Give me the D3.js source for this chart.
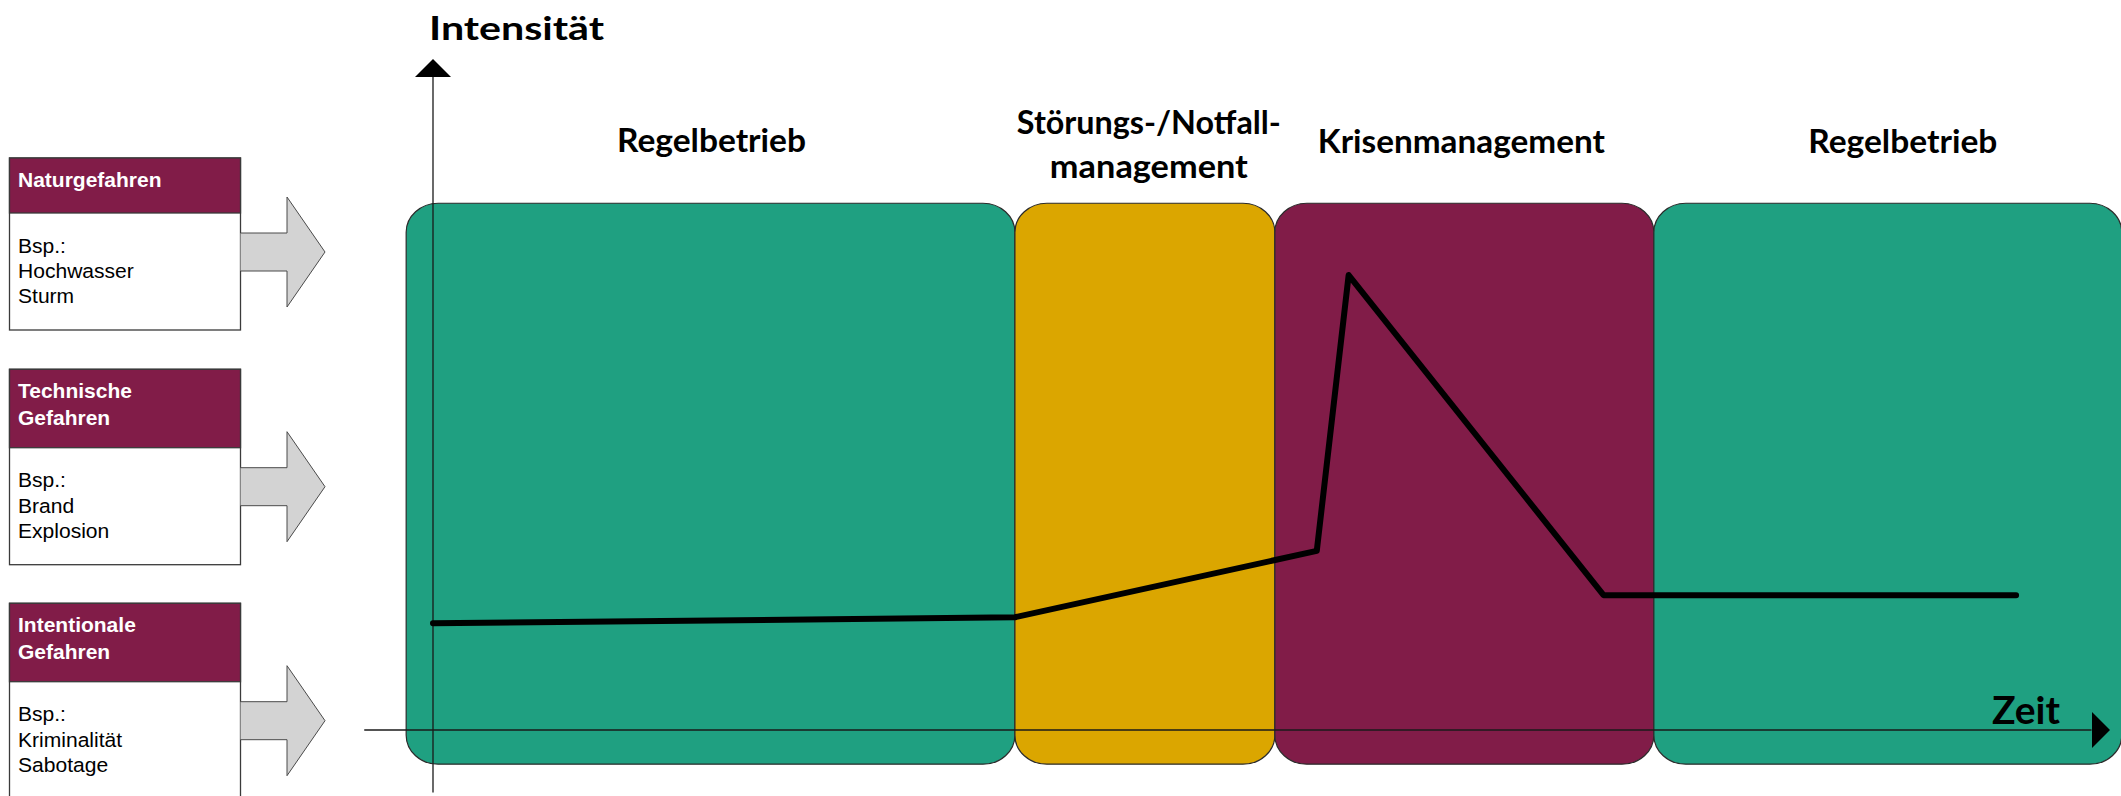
<!DOCTYPE html>
<html>
<head>
<meta charset="utf-8">
<script src="https://cdn.jsdelivr.net/npm/d3@7"></script>
<style>
  body { margin: 0; background: #fff; }
  svg { display: block; }
</style>
</head>
<body>
<svg></svg>
<script>
var screen = {width: 2121, height: 796}

// phases along the time axis (time units 0..100)
var phaseNames = ["Regelbetrieb", "Störungs-/Notfall-\nmanagement", "Krisenmanagement", "Regelbetrieb"]
var phaseStart = [-1.6, 34.7, 50.2, 72.8]
var phaseEnd = [34.7, 50.2, 72.8, 100.7]

// intensity curve
var curveTime = [0, 34.7, 52.7, 54.6, 69.8, 94.4]
var curveIntensity = [15.9, 16.8, 26.7, 67.8, 20.1, 20.1]

// hazard boxes on the left
var hazardNames = ["Naturgefahren", "Technische\nGefahren", "Intentionale\nGefahren"]
var hazardExamples = [["Bsp.:", "Hochwasser", "Sturm"], ["Bsp.:", "Brand", "Explosion"], ["Bsp.:", "Kriminalität", "Sabotage"]]

var axisLabels = {y: "Intensität", x: "Zeit"}

// styles
var phaseColors = ["#1fa081", "#dba600", "#811c48", "#1fa081"]
var purple = "#811c48"
var titleFont = "Lato, 'Open Sans', sans-serif"
var boxFont = "'Liberation Sans', Arial, sans-serif"

var svg = d3.select("svg")
    .attr("width", screen.width)
    .attr("height", screen.height)

var xScale = d3.scaleLinear()
                .domain([0, 100])
                .range([433, 2110])

var yScale = d3.scaleLinear()
                .domain([0, 100])
                .range([730, 59])

//
//PHASE PANELS
//
var panelTop = 78.5
var panelBottom = -5.1

var panels = svg.append("g").attr("id", "panels")

panels.selectAll("rect")
    .data(phaseNames)
    .enter()
    .append("rect")
    .attr("x", function(d, i) { return xScale(phaseStart[i]) })
    .attr("width", function(d, i) { return xScale(phaseEnd[i]) - xScale(phaseStart[i]) })
    .attr("y", yScale(panelTop))
    .attr("height", yScale(panelBottom) - yScale(panelTop))
    .attr("rx", 32)
    .attr("ry", 29)
    .attr("fill", function(d, i) { return phaseColors[i] })
    .attr("stroke", "#2b2b2b")
    .attr("stroke-width", 1.2)

// titles above panels: [center offset, first baseline, width of each line]
var titleLayout = [
    {dx: 1, y: 152, w: [189]},
    {dx: 4, y: 134, w: [264, 198]},
    {dx: -3, y: 152.5, w: [287]},
    {dx: 15, y: 152.7, w: [189]}
]

var titles = svg.append("g").attr("id", "titles")

phaseNames.forEach(function(name, i)
{
    var cx = (xScale(phaseStart[i]) + xScale(phaseEnd[i])) / 2 + titleLayout[i].dx
    name.split("\n").forEach(function(line, j)
    {
        titles.append("text")
            .attr("x", cx)
            .attr("y", titleLayout[i].y + j * 44)
            .attr("text-anchor", "middle")
            .attr("font-family", titleFont)
            .attr("font-weight", "bold")
            .attr("font-size", 31.5)
            .attr("textLength", titleLayout[i].w[j])
            .attr("lengthAdjust", "spacingAndGlyphs")
            .attr("fill", "#000")
            .text(line)
    })
})

//
//AXES
//
var axes = svg.append("g").attr("id", "axes")

axes.append("line")
    .attr("x1", xScale(-4.1))
    .attr("x2", xScale(98.9))
    .attr("y1", yScale(0))
    .attr("y2", yScale(0))
    .attr("stroke", "#1a1a1a")
    .attr("stroke-width", 1.3)

axes.append("line")
    .attr("x1", xScale(0))
    .attr("x2", xScale(0))
    .attr("y1", yScale(-9.3))
    .attr("y2", yScale(97.3))
    .attr("stroke", "#1a1a1a")
    .attr("stroke-width", 1.3)

// arrow heads
var tipX = xScale(100), tipY = yScale(100)
axes.append("path")
    .attr("d", "M" + tipX + "," + yScale(0) + "L" + (tipX - 18) + "," + (yScale(0) - 18) + "L" + (tipX - 18) + "," + (yScale(0) + 18) + "Z")
    .attr("fill", "#000")

axes.append("path")
    .attr("d", "M" + xScale(0) + "," + tipY + "L" + (xScale(0) - 18) + "," + (tipY + 18) + "L" + (xScale(0) + 18) + "," + (tipY + 18) + "Z")
    .attr("fill", "#000")

axes.append("text")
    .attr("x", xScale(0) - 4)
    .attr("y", 40)
    .attr("font-family", titleFont)
    .attr("font-weight", "bold")
    .attr("font-size", 33)
    .attr("textLength", 175)
    .attr("lengthAdjust", "spacingAndGlyphs")
    .text(axisLabels.y)

axes.append("text")
    .attr("x", 1992)
    .attr("y", yScale(0) - 6)
    .attr("font-family", titleFont)
    .attr("font-weight", "bold")
    .attr("font-size", 38)
    .attr("textLength", 68)
    .attr("lengthAdjust", "spacingAndGlyphs")
    .text(axisLabels.x)

//
//INTENSITY LINE
//
var line = d3.line()
    .x(function(d, i) { return xScale(curveTime[i]) })
    .y(function(d, i) { return yScale(curveIntensity[i]) })

svg.append("path")
    .datum(curveTime)
    .attr("d", line)
    .attr("fill", "none")
    .attr("stroke", "#000")
    .attr("stroke-width", 6)
    .attr("stroke-linejoin", "round")
    .attr("stroke-linecap", "round")

//
//HAZARD BOXES
//
var boxTop = [158, 369.3, 603.3]
var headerHeight = [55, 78.4, 78.4]
var bodyHeight = 117
var boxLeft = 9.5, boxWidth = 231

var boxes = svg.append("g").attr("id", "boxes")

hazardNames.forEach(function(name, i)
{
    var top = boxTop[i]
    var headBottom = top + headerHeight[i]

    boxes.append("rect")
        .attr("x", boxLeft)
        .attr("y", top)
        .attr("width", boxWidth)
        .attr("height", headerHeight[i] + bodyHeight)
        .attr("fill", "#fff")
        .attr("stroke", "#3a3a3a")
        .attr("stroke-width", 1.3)

    boxes.append("rect")
        .attr("x", boxLeft)
        .attr("y", top)
        .attr("width", boxWidth)
        .attr("height", headerHeight[i])
        .attr("fill", purple)
        .attr("stroke", "#3a3a3a")
        .attr("stroke-width", 1.3)

    name.split("\n").forEach(function(l, j)
    {
        boxes.append("text")
            .attr("transform", "translate(18," + (top + 29 + j * 26.6) + ") scale(1.05,1)")
            .attr("font-family", boxFont)
            .attr("font-weight", "bold")
            .attr("font-size", 20)
            .attr("fill", "#fff")
            .text(l)
    })

    hazardExamples[i].forEach(function(l, j)
    {
        boxes.append("text")
            .attr("transform", "translate(18," + (headBottom + 39.5 + j * 25.3) + ") scale(1.08,1)")
            .attr("font-family", boxFont)
            .attr("font-size", 19.5)
            .attr("fill", "#000")
            .text(l)
    })

    // grey arrow pointing to the chart
    var cy = headBottom + 39
    var x0 = boxLeft + boxWidth, x1 = 287, x2 = 325
    boxes.append("path")
        .attr("d", "M" + x0 + "," + (cy - 19) + "L" + x1 + "," + (cy - 19) + "L" + x1 + "," + (cy - 55) +
                   "L" + x2 + "," + cy + "L" + x1 + "," + (cy + 55) + "L" + x1 + "," + (cy + 19) +
                   "L" + x0 + "," + (cy + 19))
        .attr("fill", "#d3d3d3")
        .attr("stroke", "#4a4a4a")
        .attr("stroke-width", 1)
})
</script>
</body>
</html>
